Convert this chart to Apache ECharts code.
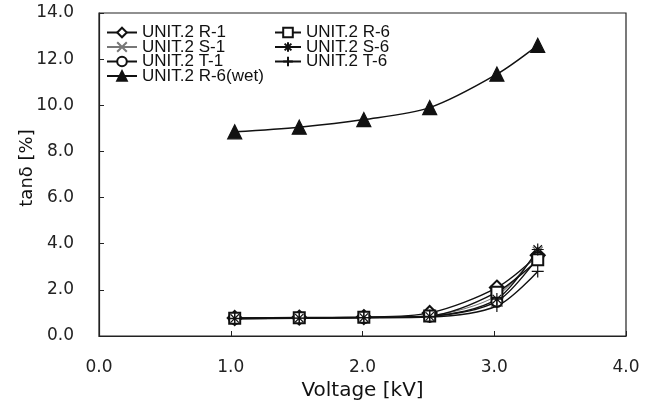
<!DOCTYPE html>
<html>
<head>
<meta charset="utf-8">
<script src="https://cdn.jsdelivr.net/npm/echarts@6/dist/echarts.min.js"></script>
<style>
  html, body { margin: 0; padding: 0; background: #fff; }
  #chart { width: 651px; height: 401px; }
</style>
</head>
<body>
<div id="chart"></div>
<script>
  // voltage points [kV]
  const voltage = [1.03, 1.52, 2.01, 2.51, 3.02, 3.33]
  // tan delta [%]
  const r1 = [0.78, 0.8, 0.82, 1.0, 2.1, 3.5]
  const s1 = [0.77, 0.79, 0.8, 0.88, 1.75, 3.65]
  const t1 = [0.76, 0.78, 0.8, 0.86, 1.5, 3.4]
  const r6wet = [8.85, 9.05, 9.38, 9.9, 11.35, 12.6]
  const r6 = [0.77, 0.79, 0.81, 0.87, 1.9, 3.3]
  const s6 = [0.76, 0.78, 0.8, 0.85, 1.6, 3.75]
  const t6 = [0.75, 0.77, 0.79, 0.82, 1.3, 2.8]
  const seriesNames = ['UNIT.2 R-1', 'UNIT.2 S-1', 'UNIT.2 T-1', 'UNIT.2 R-6(wet)', 'UNIT.2 R-6', 'UNIT.2 S-6', 'UNIT.2 T-6']

  const xPath = 'path://M0,0L10,10M10,0L0,10'
  const starPath = 'path://M5,0L5,10M0,5L10,5M1.5,1.5L8.5,8.5M8.5,1.5L1.5,8.5'
  const plusPath = 'path://M5,0L5,10M0,5L10,5'

  const pair = arr => voltage.map((v, i) => [v, arr[i]])

  function mk (name, data, symbol, size, opts) {
    opts = opts || {}
    const color = opts.color || '#111'
    return {
      name: name,
      type: 'line',
      data: pair(data),
      smooth: 0.3,
      symbol: symbol,
      symbolSize: size,
      showAllSymbol: true,
      lineStyle: { color: color, width: opts.width || 1.4, type: opts.lineType || 'solid' },
      itemStyle: {
        color: color,
        borderColor: color,
        borderWidth: 1.2
      },
      emphasis: { disabled: true },
      z: opts.z || 2
    }
  }

  const chartInstance = echarts.init(document.getElementById('chart'))
  const legendText = { fontFamily: 'Liberation Sans', fontSize: 17, color: '#111' }
  const axisLabelStyle = { fontFamily: 'DejaVu Sans', fontSize: 17, color: '#222' }
  const option = {
    animation: false,
    backgroundColor: '#fff',
    textStyle: { fontFamily: 'Liberation Sans' },
    grid: {
      left: 99,
      right: 25,
      top: 13,
      bottom: 65,
      outerBoundsMode: 'none',
      containLabel: false,
      show: true,
      borderColor: '#222',
      borderWidth: 1.2
    },
    legend: [
      {
        data: [seriesNames[0], seriesNames[1], seriesNames[2], seriesNames[3]],
        orient: 'vertical',
        left: 106,
        top: 24,
        itemWidth: 30,
        itemHeight: 12,
        itemGap: -2.5,
        padding: 0,
        textStyle: legendText
      },
      {
        data: [seriesNames[4], seriesNames[5], seriesNames[6]],
        orient: 'vertical',
        left: 274,
        top: 24,
        itemWidth: 26,
        itemHeight: 12,
        itemGap: -2.5,
        padding: 0,
        textStyle: legendText
      }
    ],
    graphic: [
      {
        type: 'text',
        x: 27,
        y: 168,
        rotation: Math.PI / 2,
        style: {
          text: 'tanδ [%]',
          fontFamily: 'DejaVu Sans',
          fontSize: 18,
          fill: '#111',
          align: 'center',
          verticalAlign: 'middle'
        }
      }
    ],
    xAxis: {
      type: 'value',
      min: 0,
      max: 4,
      interval: 1,
      name: 'Voltage [kV]',
      nameLocation: 'middle',
      nameGap: 44,
      nameTextStyle: { fontFamily: 'DejaVu Sans', fontSize: 20, color: '#111' },
      axisLine: { lineStyle: { color: '#222', width: 1.2 } },
      axisTick: { inside: true, length: 5, lineStyle: { color: '#222' } },
      axisLabel: Object.assign({ margin: 23, formatter: v => v.toFixed(1) }, axisLabelStyle),
      splitLine: { show: false }
    },
    yAxis: {
      type: 'value',
      min: 0,
      max: 14,
      interval: 2,
      axisLine: { lineStyle: { color: '#222', width: 1.2 } },
      axisTick: { inside: true, length: 5, lineStyle: { color: '#222' } },
      axisLabel: Object.assign({ margin: 25, formatter: v => v.toFixed(1) }, axisLabelStyle),
      splitLine: { show: false }
    },
    series: [
      mk(seriesNames[0], r1, 'emptyDiamond', 14),
      mk(seriesNames[1], s1, xPath, 10, { color: '#777', width: 1.1 }),
      mk(seriesNames[2], t1, 'emptyCircle', 11),
      mk(seriesNames[3], r6wet, 'triangle', 14, { width: 1.5 }),
      mk(seriesNames[4], r6, 'emptyRect', 11),
      mk(seriesNames[5], s6, starPath, 12),
      mk(seriesNames[6], t6, plusPath, 12)
    ]
  }
  chartInstance.setOption(option)
</script>
</body>
</html>
